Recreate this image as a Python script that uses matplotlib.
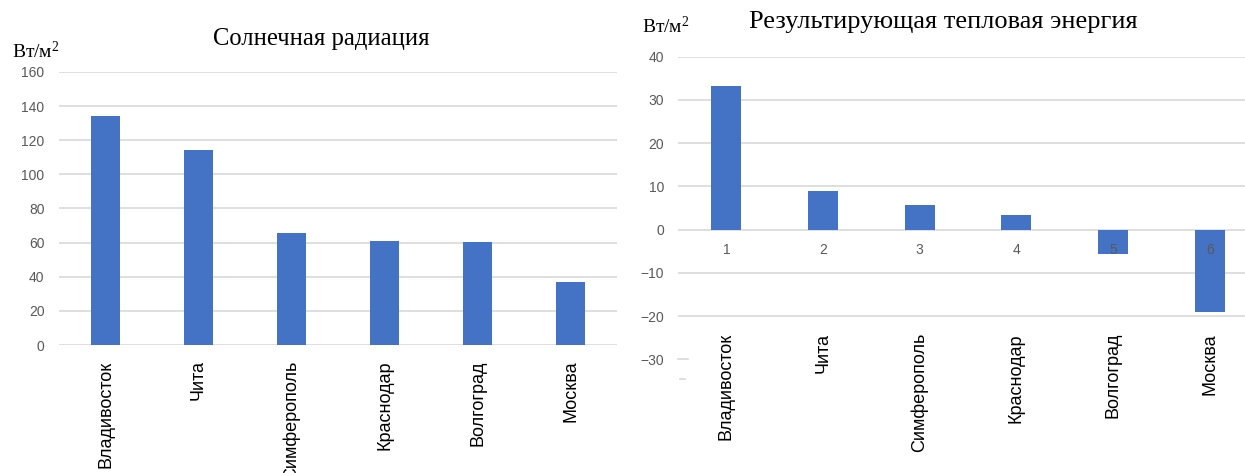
import matplotlib.pyplot as plt

cities = ['Владивосток', 'Чита', 'Симферополь', 'Краснодар', 'Волгоград', 'Москва']
solar = [134.5, 114, 65.5, 61, 60.2, 37]
heat = [33.2, 8.9, 5.8, 3.3, -5.7, -19.1]
numbers = ['1', '2', '3', '4', '5', '6']
solar_ticks = [0, 20, 40, 60, 80, 100, 120, 140, 160]
heat_ticks = [-30, -20, -10, 0, 10, 20, 30, 40]

bar_color = '#4472C4'
grid_color = '#D9D9D9'
tick_color = '#595959'
sans = 'Liberation Sans'
serif = 'Liberation Serif'

plt.rcParams['font.family'] = [sans, 'DejaVu Sans']
plt.rcParams['mathtext.fontset'] = 'custom'
plt.rcParams['mathtext.rm'] = serif
plt.rcParams['mathtext.it'] = serif
plt.rcParams['mathtext.bf'] = serif

units = 'Вт/м$^{2}$'

fig = plt.figure(figsize=(12.45, 4.73), dpi=100)
x = list(range(len(cities)))

# левый график
ax1 = fig.add_axes([0.0474, 0.2706, 0.4482, 0.5772])
ax1.bar(x, solar, width=0.31, color=bar_color)
ax1.set_xlim(-0.5, 5.5)
ax1.set_ylim(0, 160)
ax1.set_yticks(solar_ticks)
ax1.grid(axis='y', color=grid_color, linewidth=1.2)
ax1.set_axisbelow(True)
for s in ax1.spines.values():
    s.set_visible(False)
ax1.tick_params(axis='y', length=0, pad=10.5, labelcolor=tick_color, labelsize=10)
ax1.set_xticks(x)
ax1.set_xticklabels(cities, rotation=90, fontsize=13)
ax1.tick_params(axis='x', length=0, pad=11)

fig.text(321 / 1245, 1 - 45 / 473, 'Солнечная радиация', ha='center', va='baseline',
         family=serif, fontsize=17.7)
fig.text(12 / 1245, 1 - 58 / 473, units, ha='left', va='baseline', family=serif, fontsize=14)

# правый график
ax2 = fig.add_axes([0.5446, 0.2400, 0.4659, 0.6401])
ax2.bar(x, heat, width=0.31, color=bar_color, zorder=2)
ax2.set_xlim(-0.5, 5.5)
ax2.set_ylim(-30, 40)
ax2.set_yticks(heat_ticks)
for t in heat_ticks:
    if t != -30:
        ax2.axhline(t, color=grid_color, linewidth=1.2, zorder=1)
for s in ax2.spines.values():
    s.set_visible(False)
ax2.tick_params(axis='y', length=0, pad=10, labelcolor=tick_color, labelsize=10)
ax2.set_xticks([])
ax2.plot([-0.5, -0.4], [-30, -30], color=grid_color, lw=1.2, clip_on=False)
ax2.plot([-0.48, -0.43], [-34.5, -34.5], color=grid_color, lw=1.2, clip_on=False)

for i, n in enumerate(numbers):
    ax2.text(i, -4.8, n, ha='center', va='center', color=tick_color, fontsize=10, zorder=5)
for i, c in enumerate(cities):
    ax2.text(i, -23.9, c, ha='center', va='top', rotation=90, fontsize=13)

fig.text(943 / 1245, 1 - 28 / 473, 'Результирующая тепловая энергия', ha='center', va='baseline',
         family=serif, fontsize=19)
fig.text(642 / 1245, 1 - 33 / 473, units, ha='left', va='baseline', family=serif, fontsize=14)

fig.savefig('out.png', dpi=100)
